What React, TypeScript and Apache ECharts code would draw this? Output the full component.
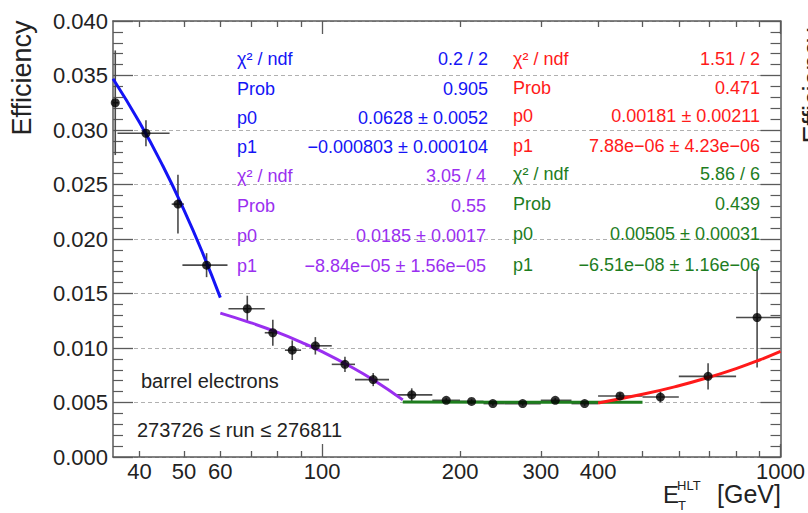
import React, { useEffect, useRef } from "react";
import * as echarts from "echarts";

const energy = [35.4, 41.3, 48.5, 56.0, 68.7, 78.1, 86.1, 96.7, 112.2, 129.3, 156.9, 186.6, 211.9, 235.8, 273.9, 322.6, 373.9, 446.6, 547, 695, 889];
const energyLow = [35, 35.8, 47, 49.6, 62.5, 75, 83, 92, 105, 118, 144, 174, 200, 225, 250, 300, 350, 400, 500, 600, 800];
const energyHigh = [36, 46.5, 50, 62.2, 75, 81, 90, 105, 118, 140, 174, 200, 225, 250, 300, 350, 400, 500, 600, 800, 1000];
const efficiency = [0.0325, 0.0297, 0.0232, 0.0176, 0.0136, 0.0114, 0.0098, 0.0102, 0.0085, 0.0071, 0.0057, 0.0052, 0.0051, 0.0049, 0.0049, 0.0052, 0.0049, 0.0056, 0.0055, 0.0074, 0.0128];
const efficiencyErr = [0.0048, 0.0012, 0.0027, 0.0011, 0.0012, 0.0012, 0.0009, 0.0008, 0.0007, 0.0006, 0.0006, 0.0002, 0.0002, 0.0002, 0.0002, 0.0002, 0.0002, 0.0003, 0.0005, 0.0012, 0.0046];

// ---- fit curves (points along the drawn fit functions) ----
const blueFitX = [35, 40, 45, 50, 55, 60];
const blueFitY = [0.0347, 0.03068, 0.02667, 0.02265, 0.01864, 0.01462];
const purpleFitX = [60, 70, 80, 90, 100, 115, 130, 150];
const purpleFitY = [0.0132, 0.01231, 0.01143, 0.01054, 0.00966, 0.00833, 0.00701, 0.00524];
const greenFitX = [150, 250, 350, 500];
const greenFitY = [0.00504, 0.00503, 0.00503, 0.00502];
const redFitX = [400, 500, 600, 700, 800, 900, 1000];
const redFitY = [0.00496, 0.00575, 0.00654, 0.00733, 0.00811, 0.0089, 0.00969];

// ---- axis ticks / labels ----
const xLabelValues = [40, 50, 60, 100, 200, 300, 400, 1000];
const xMinorTicks = [40, 50, 60, 70, 80, 90, 200, 300, 400, 500, 600, 700, 800, 900];
const xMajorTicks = [100, 1000];

// ---- fit statistics boxes ----
const statsBlue = [["χ² / ndf", "0.2 / 2"], ["Prob", "0.905"], ["p0", "0.0628 ± 0.0052"], ["p1", "−0.000803 ± 0.000104"]];
const statsPurple = [["χ² / ndf", "3.05 / 4"], ["Prob", "0.55"], ["p0", "0.0185 ± 0.0017"], ["p1", "−8.84e−05 ± 1.56e−05"]];
const statsRed = [["χ² / ndf", "1.51 / 2"], ["Prob", "0.471"], ["p0", "0.00181 ± 0.00211"], ["p1", "7.88e−06 ± 4.23e−06"]];
const statsGreen = [["χ² / ndf", "5.86 / 6"], ["Prob", "0.439"], ["p0", "0.00505 ± 0.00031"], ["p1", "−6.51e−08 ± 1.16e−06"]];

const FONT = "'Liberation Sans', Arial, Helvetica, sans-serif";
const AXIS_COLOR = "#5a5a5a";
const BLUE = "#1414f5";
const PURPLE = "#9a2ff0";
const RED = "#ff1a1a";
const GREEN = "#1e7d1e";

function txt(x: number, y: number, text: string, color: string, size: number, align: string, extra: any = {}) {
  return {
    type: "text",
    x,
    y,
    z: 100,
    ...extra,
    style: {
      text,
      fill: color,
      fontSize: size,
      fontFamily: FONT,
      align,
      verticalAlign: "middle",
      textAlign: align,
      textVerticalAlign: "middle",
    },
  };
}

function statsBlock(rows: string[][], color: string, labelX: number, valueX: number, ys: number[]) {
  const out: any[] = [];
  rows.forEach((r, i) => {
    out.push(txt(labelX, ys[i], r[0], color, 18, "left"));
    out.push(txt(valueX, ys[i], r[1], color, 18, "right"));
  });
  return out;
}

export default function App() {
  const ref = useRef<HTMLDivElement>(null);
  useEffect(() => {
    document.body.style.margin = "0";
    if (!ref.current) return;
    const chart = echarts.init(ref.current, undefined, { renderer: "svg" });

    const errData = energy.map((e, i) => [e, efficiency[i], energyLow[i], energyHigh[i], efficiency[i] - efficiencyErr[i], efficiency[i] + efficiencyErr[i]]);

    const baseX = (position: string, ticks: number[], len: number, showLine: boolean, showLabel: boolean) => ({
      type: "log",
      logBase: 10,
      min: 35,
      max: 1000,
      position,
      gridIndex: 0,
      axisLine: { show: showLine, lineStyle: { color: AXIS_COLOR, width: 1.5 } },
      axisTick: { show: true, inside: true, length: len, customValues: ticks, lineStyle: { color: AXIS_COLOR, width: 1.3 } },
      axisLabel: showLabel
        ? {
            show: true,
            customValues: xLabelValues,
            formatter: (v: number) => String(Math.round(v)),
            fontSize: 22,
            fontFamily: FONT,
            color: "#222",
            margin: 3,
          }
        : { show: false },
      splitLine: { show: false },
      minorTick: { show: false },
      minorSplitLine: { show: false },
    });

    const baseY = (position: string, showLabel: boolean, grid: boolean) => ({
      type: "value",
      min: 0,
      max: 0.04,
      interval: 0.005,
      position,
      axisLine: { show: true, lineStyle: { color: AXIS_COLOR, width: 1.5 } },
      axisTick: { show: true, inside: true, length: 20, lineStyle: { color: AXIS_COLOR, width: 1.3 } },
      minorTick: { show: true, splitNumber: 5, length: 10, lineStyle: { color: AXIS_COLOR, width: 1.2 } },
      axisLabel: showLabel
        ? { show: true, formatter: (v: number) => v.toFixed(3), fontSize: 22, fontFamily: FONT, color: "#222", margin: 5 }
        : { show: false },
      splitLine: grid ? { show: true, lineStyle: { type: [4, 3], color: "#b0b0b0", width: 1.2 } } : { show: false },
    });

    const fitLine = (xs: number[], ys: number[], color: string) => ({
      type: "line",
      xAxisIndex: 0,
      yAxisIndex: 0,
      data: xs.map((x, i) => [x, ys[i]]),
      showSymbol: false,
      symbol: "none",
      smooth: true,
      lineStyle: { color, width: 3 },
      z: 3,
      silent: true,
    });

    const leftYs = [59, 88.5, 117.5, 147, 175.5, 205.5, 236, 266];
    const rightYs = [59, 87.5, 116, 145.5, 173.5, 203.5, 234, 265];

    const graphics: any[] = [
      txt(22, 78, "Efficiency", "#222", 27, "center", { rotation: Math.PI / 2 }),
      txt(813, 86, "Efficiency", "#222", 27, "center", { rotation: Math.PI / 2 }),
      txt(141, 381, "barrel electrons", "#222", 20, "left"),
      txt(137, 430, "273726 ≤ run ≤ 276811", "#222", 20, "left"),
      txt(663, 494, "E", "#222", 24, "left"),
      txt(677, 485, "HLT", "#222", 13, "left"),
      txt(678, 505, "T", "#222", 13, "left"),
      txt(781, 494, "[GeV]", "#222", 25, "right"),
      ...statsBlock(statsBlue, BLUE, 237, 488, leftYs.slice(0, 4)),
      ...statsBlock(statsPurple, PURPLE, 237, 486, leftYs.slice(4)),
      ...statsBlock(statsRed, RED, 513, 760, rightYs.slice(0, 4)),
      ...statsBlock(statsGreen, GREEN, 513, 760, rightYs.slice(4)),
    ];

    chart.setOption({
      animation: false,
      backgroundColor: "#ffffff",
      grid: { left: 113, right: 26, top: 21, bottom: 56, containLabel: false },
      xAxis: [
        baseX("bottom", xMinorTicks, 6, true, true),
        baseX("bottom", xMajorTicks, 13, false, false),
        baseX("top", xMinorTicks, 6, true, false),
        baseX("top", xMajorTicks, 13, false, false),
      ],
      yAxis: [baseY("left", true, true), baseY("right", false, false)],
      series: [
        {
          type: "custom",
          xAxisIndex: 0,
          yAxisIndex: 0,
          clip: true,
          z: 2,
          silent: true,
          data: errData,
          encode: { x: [0, 2, 3], y: [1, 4, 5] },
          renderItem: (_params: any, api: any) => {
            const l = api.coord([api.value(2), api.value(1)]);
            const r = api.coord([api.value(3), api.value(1)]);
            const lo = api.coord([api.value(0), api.value(4)]);
            const hi = api.coord([api.value(0), api.value(5)]);
            const st = { stroke: "#4a4a4a", lineWidth: 1.6 };
            return {
              type: "group",
              children: [
                { type: "line", shape: { x1: l[0], y1: l[1], x2: r[0], y2: r[1] }, style: st },
                { type: "line", shape: { x1: lo[0], y1: lo[1], x2: hi[0], y2: hi[1] }, style: st },
              ],
            };
          },
        },
        fitLine(blueFitX, blueFitY, BLUE),
        fitLine(purpleFitX, purpleFitY, PURPLE),
        fitLine(greenFitX, greenFitY, GREEN),
        fitLine(redFitX, redFitY, RED),
        {
          type: "scatter",
          xAxisIndex: 0,
          yAxisIndex: 0,
          data: energy.map((e, i) => [e, efficiency[i]]),
          symbol: "circle",
          symbolSize: 9,
          itemStyle: { color: "#000" },
          z: 4,
          silent: true,
        },
      ],
      graphic: graphics,
    });

    return () => chart.dispose();
  }, []);

  return <div ref={ref} style={{ width: 808, height: 513 }} />;
}
